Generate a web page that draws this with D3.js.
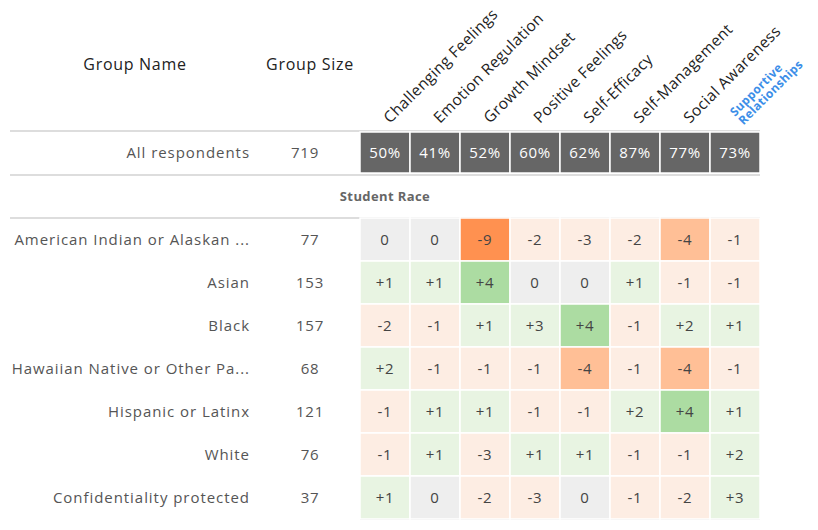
<!DOCTYPE html>
<html>
<head>
<meta charset="utf-8">
<script src="https://cdn.jsdelivr.net/npm/d3@7"></script>
<style>
  body { margin: 0; background: #fff; }
  svg text { font-family: "Open Sans", sans-serif; letter-spacing: 0.7px; }
</style>
</head>
<body>
<div id="chart"></div>
<script>
// measures across the top
const measures = ['Challenging Feelings', 'Emotion Regulation', 'Growth Mindset', 'Positive Feelings',
  'Self-Efficacy', 'Self-Management', 'Social Awareness', 'Supportive Relationships'];
const highlighted = 'Supportive Relationships';

const overallLabel = 'All respondents';
const overallSize = 719;
const overallPct = [50, 41, 52, 60, 62, 87, 77, 73];

const sectionTitle = 'Student Race';
const groups = ['American Indian or Alaskan ...', 'Asian', 'Black', 'Hawaiian Native or Other Pa...',
  'Hispanic or Latinx', 'White', 'Confidentiality protected'];
const groupSizes = [77, 153, 157, 68, 121, 76, 37];
// difference from all respondents, one row per group
const diffs = [
  [0, 0, -9, -2, -3, -2, -4, -1],
  [1, 1, 4, 0, 0, 1, -1, -1],
  [-2, -1, 1, 3, 4, -1, 2, 1],
  [2, -1, -1, -1, -4, -1, -4, -1],
  [-1, 1, 1, -1, -1, 2, 4, 1],
  [-1, 1, -3, 1, 1, -1, -1, 2],
  [1, 0, -2, -3, 0, -1, -2, 3]
];

const width = 818, height = 530;
const svg = d3.select('#chart').append('svg')
  .attr('width', width)
  .attr('height', height);

const x = d3.scaleBand().domain(measures).range([360, 760]);
const y = d3.scaleBand().domain(groups).range([218, 519]);
const overallTop = 131, overallBottom = 174;

function cellColor(v) {
  if (v === 0) return '#eeeeee';
  if (v >= 4) return '#acdca2';
  if (v > 0) return '#e8f4e2';
  if (v <= -6) return '#ff9150';
  if (v <= -4) return '#ffbf96';
  return '#fdede3';
}

// column headers
svg.append('text')
  .attr('x', 135).attr('y', 70)
  .attr('text-anchor', 'middle')
  .style('font-size', '16px').style('fill', '#222')
  .text('Group Name');
svg.append('text')
  .attr('x', 310).attr('y', 70)
  .attr('text-anchor', 'middle')
  .style('font-size', '16px').style('fill', '#222')
  .text('Group Size');

measures.forEach(m => {
  const gx = x(m) + 30;
  if (m === highlighted) {
    const t = svg.append('text')
      .attr('transform', `translate(${gx},${overallTop - 9}) rotate(-45)`)
      .style('font-size', '12px').style('font-weight', 'bold').style('fill', '#3b8ee8')
      .style('letter-spacing', '0.3px');
    t.append('tspan').attr('x', 0).attr('dy', '-0.6em').text('Supportive');
    t.append('tspan').attr('x', 0).attr('dy', '1.0em').text('Relationships');
  } else {
    svg.append('text')
      .attr('transform', `translate(${gx},${overallTop - 7}) rotate(-45)`)
      .style('font-size', '15.5px').style('fill', '#222')
      .style('letter-spacing', '0.35px')
      .text(m);
  }
});

// divider lines
[overallTop, overallBottom + 1, y.range()[0]].forEach(ly => {
  svg.append('line')
    .attr('x1', 10).attr('x2', 760)
    .attr('y1', ly).attr('y2', ly)
    .attr('stroke', '#bbbbbb').attr('stroke-width', 1);
});
svg.append('line')
  .attr('x1', 360).attr('x2', 760)
  .attr('y1', y.range()[1]).attr('y2', y.range()[1])
  .attr('stroke', '#bbbbbb').attr('stroke-width', 1);

// overall row
const rowMidO = (overallTop + overallBottom) / 2;
svg.append('text')
  .attr('x', 250).attr('y', rowMidO)
  .attr('dy', '0.35em').attr('text-anchor', 'end')
  .style('font-size', '15px').style('fill', '#555')
  .style('letter-spacing', '0.95px')
  .text(overallLabel);
svg.append('text')
  .attr('x', 305).attr('y', rowMidO)
  .attr('dy', '0.35em').attr('text-anchor', 'middle')
  .style('font-size', '15px').style('fill', '#555')
  .text(overallSize);

svg.selectAll('.overall')
  .data(overallPct)
  .enter().append('rect')
  .attr('x', (d, i) => x(measures[i]))
  .attr('y', overallTop + 1)
  .attr('width', x.bandwidth())
  .attr('height', overallBottom - overallTop - 2)
  .attr('fill', '#666666')
  .attr('stroke', '#fff')
  .attr('stroke-width', 1.5);
svg.selectAll('.overallText')
  .data(overallPct)
  .enter().append('text')
  .attr('x', (d, i) => x(measures[i]) + x.bandwidth() / 2)
  .attr('y', rowMidO)
  .attr('dy', '0.35em').attr('text-anchor', 'middle')
  .style('font-size', '15px').style('fill', '#fff')
  .text(d => d + '%');

// section title
svg.append('text')
  .attr('x', 385).attr('y', 196)
  .attr('dy', '0.35em').attr('text-anchor', 'middle')
  .style('font-size', '13px').style('font-weight', 'bold').style('fill', '#666')
  .style('letter-spacing', '0.4px')
  .text(sectionTitle);

// group rows
groups.forEach((g, r) => {
  const cy = y(g) + y.bandwidth() / 2;
  svg.append('text')
    .attr('x', 250).attr('y', cy)
    .attr('dy', '0.35em').attr('text-anchor', 'end')
    .style('font-size', '15px').style('fill', '#555')
    .style('letter-spacing', '0.95px')
    .text(g);
  svg.append('text')
    .attr('x', 310).attr('y', cy)
    .attr('dy', '0.35em').attr('text-anchor', 'middle')
    .style('font-size', '15px').style('fill', '#555')
    .text(groupSizes[r]);

  const row = svg.append('g');
  row.selectAll('rect')
    .data(diffs[r])
    .enter().append('rect')
    .attr('x', (d, i) => x(measures[i]))
    .attr('y', y(g))
    .attr('width', x.bandwidth())
    .attr('height', y.bandwidth())
    .attr('fill', d => cellColor(d))
    .attr('stroke', '#fff')
    .attr('stroke-width', 1.5);
  row.selectAll('text')
    .data(diffs[r])
    .enter().append('text')
    .attr('x', (d, i) => x(measures[i]) + x.bandwidth() / 2)
    .attr('y', cy)
    .attr('dy', '0.35em').attr('text-anchor', 'middle')
    .style('font-size', '15px').style('fill', '#444')
    .text(d => d > 0 ? '+' + d : String(d));
});
</script>
</body>
</html>
